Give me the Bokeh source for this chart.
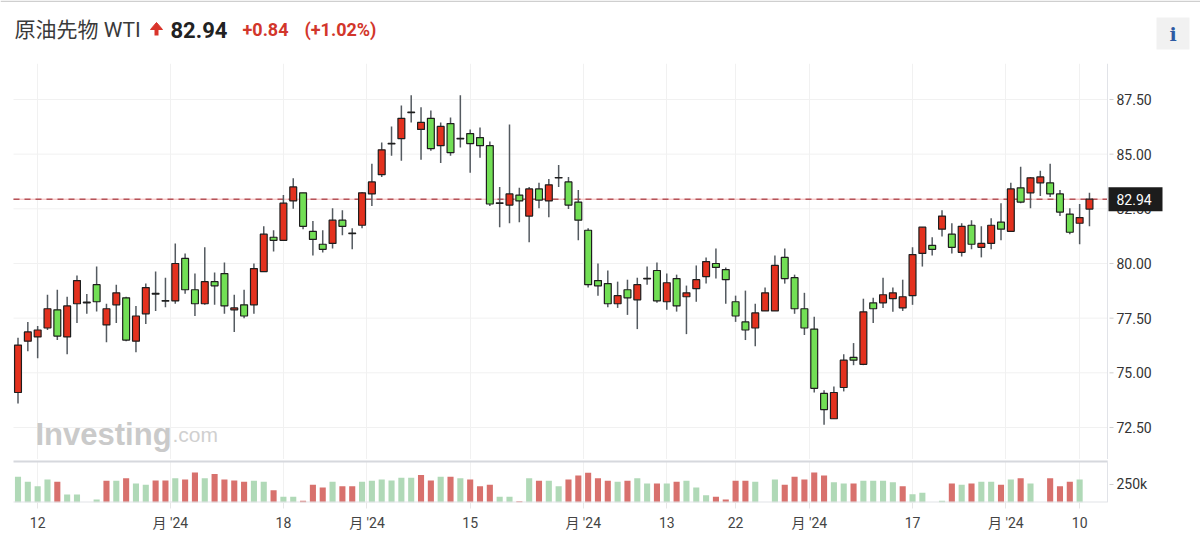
from bokeh.plotting import figure
from bokeh.models import (Range1d, FixedTicker, Span, Label, Grid, ColumnDataSource)
from bokeh.layouts import column
from bokeh.embed import file_html
from bokeh.resources import INLINE
from bokeh.core.properties import value

# ---------------- data ----------------
instrument = "原油先物 WTI"

opens = [74.10, 76.45, 76.64, 77.05, 77.88, 76.64, 78.16, 78.20, 79.03, 77.19,
         78.11, 78.43, 76.45, 77.70, 78.60, 78.28, 78.29, 80.23, 78.80, 78.16,
         79.17, 79.54, 77.88, 78.11, 78.11, 79.63, 81.20, 81.06, 82.86, 83.23,
         81.47, 80.88, 80.92, 81.98, 81.37, 81.75, 83.18, 84.06, 85.47, 85.71,
         86.90, 86.13, 86.64, 85.39, 86.40, 85.70, 85.94, 85.76, 85.39, 82.75,
         82.67, 83.13, 82.17, 83.41, 82.86, 83.91, 83.73, 82.81, 81.52, 79.22,
         79.08, 78.16, 78.80, 78.34, 79.30, 79.68, 78.25, 79.31, 78.48, 78.85,
         79.40, 80.00, 79.72, 78.25, 77.33, 77.05, 77.83, 77.83, 80.28, 79.35,
         77.93, 77.00, 74.06, 72.90, 74.33, 75.71, 75.39, 78.20, 78.20, 78.39,
         77.97, 78.53, 80.46, 80.83, 81.57, 81.34, 80.51, 81.75, 80.74, 80.92,
         81.89, 81.47, 83.46, 83.23, 83.69, 83.69, 83.18, 82.26, 81.84, 82.49]
highs = [76.60, 77.33, 77.14, 78.57, 78.80, 78.48, 79.45, 78.60, 79.86, 78.16,
         79.03, 78.48, 78.06, 79.08, 79.63, 79.35, 80.92, 80.46, 79.54, 80.74,
         79.59, 80.05, 78.57, 78.80, 80.00, 81.70, 81.52, 83.13, 83.90, 83.23,
         81.94, 81.52, 82.53, 82.44, 81.61, 83.27, 84.56, 85.53, 86.27, 87.23,
         87.70, 87.14, 87.00, 86.45, 86.68, 87.70, 86.13, 86.22, 85.58, 83.50,
         86.36, 83.46, 83.50, 83.69, 83.87, 84.50, 83.96, 83.36, 81.61, 80.00,
         79.68, 79.17, 79.26, 79.35, 79.86, 80.05, 79.54, 79.49, 78.99, 79.91,
         80.28, 80.69, 79.82, 78.53, 78.76, 78.16, 78.90, 80.37, 80.69, 79.49,
         78.66, 77.56, 74.20, 74.38, 75.85, 76.36, 78.39, 78.43, 79.35, 78.90,
         79.26, 80.74, 81.66, 81.20, 82.44, 81.84, 81.84, 81.98, 81.70, 82.07,
         82.76, 83.69, 84.42, 83.96, 84.24, 84.56, 83.36, 82.53, 82.72, 83.23]
lows = [73.60, 75.99, 75.67, 76.96, 76.50, 75.85, 77.28, 77.70, 77.80, 76.40,
        77.28, 76.45, 75.94, 77.23, 77.83, 78.00, 78.16, 78.62, 77.60, 78.11,
        78.11, 77.70, 76.87, 77.50, 77.70, 79.63, 80.55, 81.06, 82.50, 81.57,
        80.37, 80.50, 80.69, 81.29, 80.65, 81.61, 82.63, 83.96, 84.93, 84.70,
        86.45, 84.75, 85.16, 84.60, 84.93, 85.30, 84.15, 84.84, 82.63, 81.66,
        81.84, 81.89, 80.97, 82.53, 82.12, 83.50, 82.49, 81.06, 78.90, 78.53,
        78.00, 77.97, 77.65, 77.00, 79.03, 78.20, 77.88, 77.80, 76.77, 78.25,
        79.08, 79.31, 78.16, 77.33, 76.50, 76.22, 77.83, 77.83, 79.08, 77.70,
        76.73, 74.10, 72.63, 72.90, 74.15, 75.35, 75.35, 77.28, 77.97, 77.79,
        77.83, 78.11, 79.86, 80.37, 81.24, 80.46, 80.32, 80.65, 80.28, 80.65,
        81.06, 81.47, 82.76, 82.53, 83.09, 83.04, 82.17, 81.34, 80.88, 81.70]
closes = [76.27, 76.87, 76.96, 77.93, 76.68, 78.06, 79.22, 78.23, 78.25, 77.93,
          78.66, 76.50, 77.60, 78.90, 78.63, 78.30, 80.00, 78.80, 78.16, 79.17,
          78.98, 78.06, 77.97, 77.60, 79.77, 81.34, 81.06, 82.76, 83.50, 81.70,
          81.10, 80.65, 81.98, 81.70, 81.39, 83.23, 83.73, 85.20, 85.49, 86.64,
          86.92, 86.45, 85.25, 86.27, 85.07, 85.72, 85.48, 85.39, 82.72, 82.77,
          83.18, 82.86, 83.41, 82.90, 83.60, 83.93, 82.67, 81.98, 79.03, 78.98,
          78.16, 78.53, 78.43, 79.03, 79.32, 78.29, 79.12, 78.06, 78.66, 79.26,
          80.09, 79.82, 79.26, 77.60, 76.96, 77.74, 78.66, 79.91, 79.31, 77.93,
          77.05, 74.29, 73.32, 74.10, 75.58, 75.58, 77.79, 77.93, 78.57, 78.66,
          78.48, 80.41, 81.66, 80.65, 82.17, 80.74, 81.70, 80.88, 80.92, 81.75,
          81.57, 83.41, 82.81, 83.92, 83.96, 83.18, 82.35, 81.43, 82.10, 82.94]

# volume in thousands
volumes = [357, 287, 227, 320, 287, 111, 111, 0, 42, 301,
           301, 338, 264, 246, 306, 306, 338, 320, 417, 338,
           394, 320, 306, 287, 301, 287, 171, 79, 79, 23,
           246, 208, 287, 227, 227, 287, 301, 320, 306,
           343, 343, 380, 306, 357, 357, 338, 320, 227, 246, 79,
           79, 19, 338, 301, 301, 227, 320, 375, 412, 338,
           301, 287, 301, 338, 264, 264, 264, 287, 301, 208,
           102, 79, 42, 301, 301, 287, 0, 320, 246, 357,
           320, 417, 375, 282, 264, 264, 301, 301, 301, 282,
           227, 116, 134, 0, 23, 264, 246, 264, 287, 287,
           246, 320, 338, 264, 0, 338, 227, 287, 320, 0]
# 1 = red volume bar, 0 = green volume bar
vol_red = [0, 0, 0, 0, 1, 0, 0, 0, 0, 1,
           0, 1, 0, 0, 1, 1, 0, 1, 1, 0,
           1, 1, 1, 1, 0, 0, 1, 0, 0, 1,
           1, 1, 0, 1, 1, 0, 0, 0, 0,
           0, 0, 1, 1, 0, 1, 0, 1, 1, 1, 0,
           0, 1, 0, 1, 0, 0, 1, 1, 1, 1,
           1, 0, 1, 0, 0, 1, 0, 1, 0, 0,
           0, 1, 1, 1, 1, 0, 0, 0, 1, 1,
           1, 1, 1, 0, 0, 1, 0, 0, 0, 0,
           1, 0, 0, 0, 0, 1, 0, 1, 0, 0,
           1, 0, 1, 0, 0, 1, 1, 1, 0, 0]

x_tick_pos = [2, 15.5, 27, 35.5, 46, 57.5, 66, 73, 80.5, 91, 100.5, 108]
x_tick_labels = ["12", "月 '24", "18", "月 '24", "15", "月 '24", "13", "22",
                 "月 '24", "17", "月 '24", "10"]
price_ticks = [72.5, 75.0, 77.5, 80.0, 82.5, 85.0, 87.5]
vol_ticks = [250]
vol_tick_labels = ["250k"]

# ---------------- styling / layout constants ----------------
UP = "#e3311e"
DOWN = "#72df55"
VOL_UP = "#d8716d"
VOL_DOWN = "#b0d9b7"
GRID = "#f1f1f1"
AXIS = "#e1e3e8"
FONT = "Roboto, Noto Sans CJK JP, sans-serif"

W = 1200
PX = 9.83                      # pixels per bar
GRID_L, AXIS_PX, FIRST_PX = 13, 1107, 17.5
XSTART = (0 - FIRST_PX) / PX
X0 = (GRID_L - FIRST_PX) / PX
XEND = (W - FIRST_PX) / PX
XAX = (AXIS_PX - FIRST_PX) / PX
PPU = 21.867                   # pixels per price unit
Y0 = 80 - (459 - 263) / PPU
Y1 = 87.5 + (99 - 63) / PPU
VTOP = 583

n = len(closes)
xs = list(range(n))
up = [c >= o for o, c in zip(opens, closes)]
src = ColumnDataSource(dict(
    x=xs, high=highs, low=lows,
    top=[max(o, c) for o, c in zip(opens, closes)],
    bottom=[min(o, c) for o, c in zip(opens, closes)],
    color=[UP if u else DOWN for u in up],
))
vsrc = ColumnDataSource(dict(
    x=xs, vol=volumes,
    color=[VOL_UP if r else VOL_DOWN for r in vol_red],
))

last = closes[-1]
chg = closes[-1] - closes[-2]
pct = chg / closes[-2] * 100

# ---------------- header ----------------
HH = 63
h = figure(width=W, height=HH, x_range=Range1d(0, W), y_range=Range1d(0, HH),
           output_backend="svg", toolbar_location=None,
           min_border=0, outline_line_color=None)
h.axis.visible = False
h.grid.visible = False
h.quad(left=[0], right=[W], bottom=[HH - 1.5], top=[HH], fill_color="#cfcfcf", line_color=None)
h.text(x=[14], y=[HH - 29], text=[instrument], text_font=value(FONT),
       text_font_size="21px", text_color="#3a3a3a", text_baseline="middle")
h.patch(x=[150, 156, 162], y=[HH - 29, HH - 22, HH - 29], fill_color="#d9342b", line_color="#d9342b")
h.quad(left=[154], right=[158], bottom=[HH - 35], top=[HH - 29], fill_color="#d9342b", line_color=None)
h.text(x=[170], y=[HH - 29], text=[f"{last:.2f}"], text_font=value(FONT),
       text_font_size="22px", text_font_style="bold", text_color="#222222",
       text_baseline="middle")
h.text(x=[242], y=[HH - 29], text=[f"{chg:+.2f}"], text_font=value(FONT),
       text_font_size="18px", text_font_style="bold", text_color="#d2362b",
       text_baseline="middle")
h.text(x=[304], y=[HH - 29], text=[f"({pct:+.2f}%)"], text_font=value(FONT),
       text_font_size="18px", text_font_style="bold", text_color="#d2362b",
       text_baseline="middle")
h.quad(left=[1156], right=[1189], bottom=[HH - 49], top=[HH - 17], fill_color="#f1f1f1", line_color=None)
h.text(x=[1172.5], y=[HH - 33], text=["i"], text_font=value("DejaVu Serif"),
       text_font_size="19px", text_font_style="bold", text_color="#2d5aa3",
       text_align="center", text_baseline="middle")

# ---------------- price panel ----------------
p = figure(width=W, height=396, x_range=Range1d(XSTART, XEND), y_range=Range1d(Y0, Y1),
           output_backend="svg", toolbar_location=None,
           x_axis_location=None, y_axis_location=None,
           min_border=0, outline_line_color=None, background_fill_color="white")
p.grid.visible = False
p.add_layout(Grid(dimension=0, ticker=FixedTicker(ticks=x_tick_pos), grid_line_color=GRID))
p.segment(x0=[X0] * len(price_ticks), x1=[XAX] * len(price_ticks),
          y0=price_ticks, y1=price_ticks, line_color=GRID, line_width=1)
p.add_layout(Span(location=XAX, dimension="height", line_color=AXIS, line_width=1))
p.segment(x0=[XAX + 2 / PX] * len(price_ticks), x1=[XAX + 6 / PX] * len(price_ticks),
          y0=price_ticks, y1=price_ticks, line_color="#cfcfcf", line_width=1)
p.text(x=[XAX + 9 / PX] * len(price_ticks), y=price_ticks,
       text=[f"{t:.2f}" for t in price_ticks], text_font=value(FONT),
       text_font_size="14px", text_color="#333333", text_baseline="middle")

# watermark
p.add_layout(Label(x=(35 - FIRST_PX) / PX, y=80 - (434 - 263) / PPU, text="Investing",
                   text_font="Liberation Sans", text_font_style="bold",
                   text_font_size="31px", text_color="#cacaca", text_baseline="alphabetic"))
p.add_layout(Label(x=(172 - FIRST_PX) / PX, y=80 - (434 - 263) / PPU, text=".com",
                   text_font="Liberation Sans", text_font_size="21px",
                   text_color="#d0d0d0", text_baseline="alphabetic"))

# last price line
p.segment(x0=[X0], x1=[XAX], y0=[last], y1=[last], line_color="#f6b3b3", line_width=1)
p.segment(x0=[X0], x1=[XAX], y0=[last], y1=[last], line_color="#b5545a",
          line_width=1.5, line_dash="6 5")

# candles
p.segment(x0="x", y0="high", x1="x", y1="low", source=src,
          line_color="#545a60", line_width=1.5)
p.vbar(x="x", top="top", bottom="bottom", width=0.7, source=src,
       fill_color="color", line_color="#1e1e1e", line_width=1.2)

# last price tag
p.quad(left=[XAX + 1 / PX], right=[XAX + 55 / PX],
       bottom=[last - 12 / PPU], top=[last + 12 / PPU],
       fill_color="#1c1c1c", line_color=None)
p.text(x=[XAX + 9 / PX], y=[last], text=[f"{last:.2f}"], text_font=value(FONT),
       text_font_size="14px", text_color="white", text_baseline="middle")

# ---------------- volume panel ----------------
v = figure(width=W, height=81, x_range=p.x_range, y_range=Range1d(0, VTOP),
           output_backend="svg", toolbar_location=None,
           y_axis_location=None,
           min_border_left=0, min_border_right=0, min_border_top=1, min_border_bottom=38,
           outline_line_color=None, background_fill_color="white")
v.ygrid.visible = False
v.xgrid.ticker = FixedTicker(ticks=x_tick_pos)
v.xgrid.grid_line_color = GRID
v.vbar(x="x", top="vol", bottom=0, width=0.62, source=vsrc,
       fill_color="color", line_color=None)
v.segment(x0=[X0], x1=[XAX], y0=[VTOP], y1=[VTOP], line_color="#d6d8dd", line_width=4)
v.segment(x0=[X0], x1=[XAX], y0=[0], y1=[0], line_color=AXIS, line_width=2)
v.add_layout(Span(location=XAX, dimension="height", line_color=AXIS, line_width=1))
v.segment(x0=[XAX + 2 / PX] * len(vol_ticks), x1=[XAX + 6 / PX] * len(vol_ticks),
          y0=vol_ticks, y1=vol_ticks, line_color="#cfcfcf", line_width=1)
v.text(x=[XAX + 9 / PX] * len(vol_ticks), y=vol_ticks, text=vol_tick_labels,
       text_font=value(FONT), text_font_size="14px", text_color="#333333",
       text_baseline="middle")

xa = v.xaxis[0]
xa.ticker = FixedTicker(ticks=x_tick_pos)
xa.major_label_overrides = {t: s for t, s in zip(x_tick_pos, x_tick_labels)}
xa.axis_line_color = None
xa.major_tick_line_color = "#e6e6e6"
xa.major_tick_out = 6
xa.major_tick_in = 0
xa.minor_tick_line_color = None
xa.major_label_standoff = 6
xa.major_label_text_font = FONT
xa.major_label_text_font_size = "14px"
xa.major_label_text_color = "#444444"

layout = column(h, p, v, spacing=0)
open("out.html", "w").write(file_html(layout, INLINE))
